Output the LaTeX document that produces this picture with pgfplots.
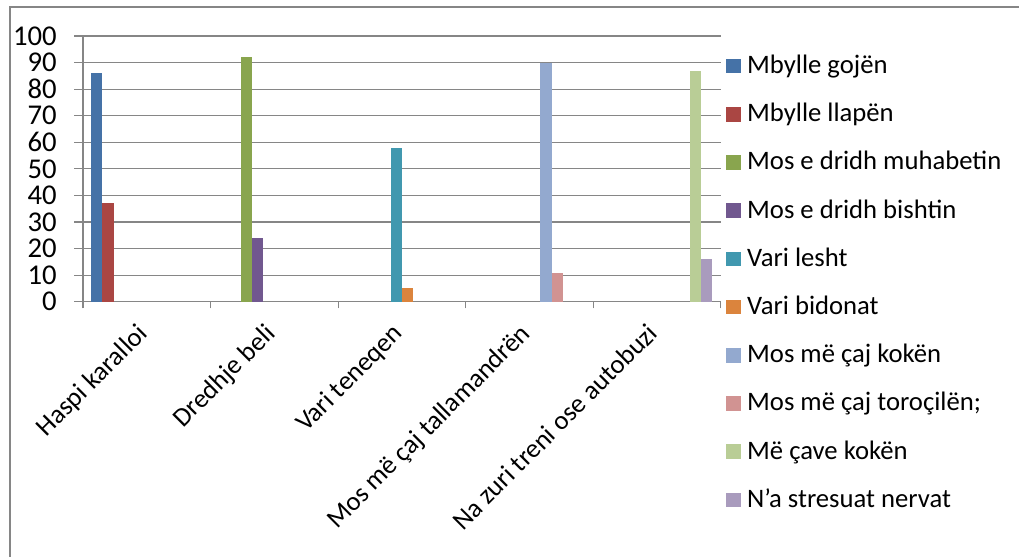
\documentclass[border=0pt]{standalone}
\usepackage{fontspec}
\setmainfont{Carlito}[Numbers={Lining,Monospaced}]
\usepackage{pgfplots}
\pgfplotsset{compat=1.18}
\definecolor{sA}{HTML}{4572A7}
\definecolor{sB}{HTML}{AA4643}
\definecolor{sC}{HTML}{89A54E}
\definecolor{sD}{HTML}{71588F}
\definecolor{sE}{HTML}{4198AF}
\definecolor{sF}{HTML}{DB843D}
\definecolor{sG}{HTML}{93A9CF}
\definecolor{sH}{HTML}{D19392}
\definecolor{sI}{HTML}{B9CD96}
\definecolor{sJ}{HTML}{A99BBD}
\definecolor{gridgray}{HTML}{868686}
\newcommand{\chartfont}{\fontsize{20}{24}\selectfont}
\newcommand{\tickfont}{\fontsize{21.5}{25}\selectfont}
\begin{document}
\begin{tikzpicture}
  \path[use as bounding box] (-62.25pt,-190.7pt) rectangle (702pt,226.3pt);
  \draw[gridgray, line width=1.4pt] (-54.75pt,-195pt) -- (-54.75pt,221pt) -- (710pt,221pt);
  \begin{axis}[
      scale only axis,
      width=478.3pt, height=199.3pt,
      xmin=-0.5, xmax=4.5, ymin=0, ymax=100,
      ybar=0pt, bar width=8.31pt,
      axis x line*=bottom, axis y line*=left,
      axis line style={draw=gridgray, line width=0.8pt, -},
      tick align=outside,
      tick label style={font=\chartfont, text=black},
      % label anchors sit a little left of the category centres
      xtick={-0.086,0.914,1.914,2.914,3.914},
      xticklabels={Haspi karalloi, Dredhje beli, Vari teneqen, Mos më çaj tallamandrën, Na zuri treni ose autobuzi},
      major x tick style={draw=none},
      minor xtick={-0.5,0.5,1.5,2.5,3.5,4.5},
      minor tick length=5pt,
      major tick length=6.5pt,
      tick style={gridgray, line width=0.8pt},
      ytick={0,10,...,100},
      yticklabel={\tickfont\pgfmathprintnumber[assume math mode=true]{\tick}},
      ymajorgrids,
      grid style={gridgray, line width=0.8pt},
      yticklabel style={anchor=east, inner sep=0pt, xshift=-13pt},
      xticklabel shift=8.5pt,
      xticklabel style={rotate=45, anchor=north east, inner sep=0pt},
      legend style={draw=none, fill=none, at={(1.008,0.0704)}, anchor=west,
        inner sep=0pt, outer sep=0pt, row sep=19.15pt, column sep=4.5pt,
        nodes={inner sep=0pt, text height=14pt, text depth=3pt},
        font=\chartfont},
      legend cell align=left,
      legend image code/.code={\fill[#1] (0pt,-5.5pt) rectangle (11.5pt,5.5pt);},
    ]
    \addplot[fill=sA, draw=none] coordinates {(0,86)};
    \addplot[fill=sB, draw=none] coordinates {(0,37)};
    \addplot[fill=sC, draw=none] coordinates {(1,92)};
    \addplot[fill=sD, draw=none] coordinates {(1,24)};
    \addplot[fill=sE, draw=none] coordinates {(2,58)};
    \addplot[fill=sF, draw=none] coordinates {(2,5)};
    \addplot[fill=sG, draw=none] coordinates {(3,90)};
    \addplot[fill=sH, draw=none] coordinates {(3,11)};
    \addplot[fill=sI, draw=none] coordinates {(4,87)};
    \addplot[fill=sJ, draw=none] coordinates {(4,16)};
    \legend{Mbylle gojën, Mbylle llapën, Mos e dridh muhabetin, Mos e dridh bishtin,
      Vari lesht, Vari bidonat, Mos më çaj kokën, Mos më çaj toroçilën;,
      Më çave kokën, N’a stresuat nervat}
  \end{axis}
\end{tikzpicture}
\end{document}
